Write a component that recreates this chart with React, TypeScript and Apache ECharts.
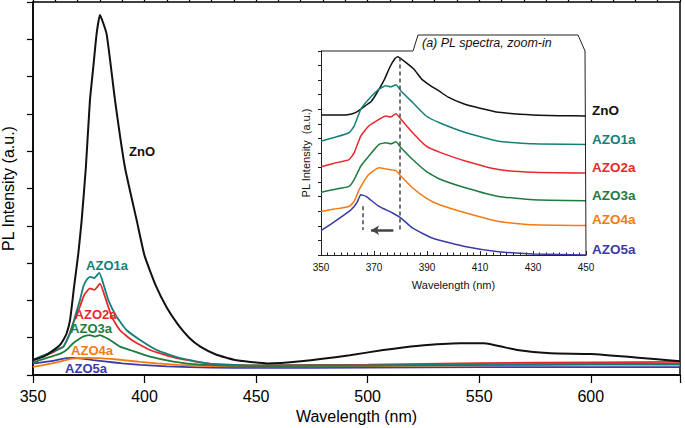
import React, { useEffect, useRef } from "react";
import * as echarts from "echarts";

// ---------- Main panel data (wavelength nm, PL intensity a.u.) ----------
const znoWl = [350, 355, 360, 362, 363.6, 365.1, 366.6, 368.4, 370.3, 371.8, 373.7, 375.5, 377, 378.5, 380, 383, 386.8, 391.2, 396.5, 400, 405, 410, 415, 420, 425, 432, 440, 455, 470, 492, 507, 522, 541.5, 552, 567, 582, 600, 620, 640];
const znoI = [0.4, 0.5, 0.7, 0.8, 0.94, 1.12, 1.47, 2.36, 3.25, 4.14, 5.57, 7.35, 8.24, 9.14, 9.65, 9.14, 7.35, 5.57, 4.14, 3.2, 2.4, 1.8, 1.35, 1.0, 0.76, 0.55, 0.41, 0.31, 0.37, 0.53, 0.67, 0.78, 0.85, 0.85, 0.67, 0.58, 0.56, 0.47, 0.37];

const azo1Wl = [350, 353, 357, 360, 363.6, 366.6, 368.8, 371, 372.5, 374, 375.5, 377.5, 379.7, 381.5, 383.8, 387.5, 392, 398, 405.5, 416, 430, 450, 500, 550, 600, 640];
const azo1I = [0.4, 0.49, 0.58, 0.66, 0.76, 1.11, 1.56, 2.0, 2.36, 2.55, 2.63, 2.6, 2.74, 2.45, 2.0, 1.56, 1.2, 0.94, 0.67, 0.45, 0.3, 0.26, 0.26, 0.28, 0.3, 0.3];

const azo2Wl = [350, 353, 357, 360, 363.6, 366, 368, 371, 373, 375.5, 377.5, 380, 382.3, 385.3, 389, 394.2, 402.5, 414.4, 430, 450, 500, 550, 600, 640];
const azo2I = [0.38, 0.47, 0.56, 0.64, 0.76, 1.05, 1.38, 1.83, 2.15, 2.32, 2.28, 2.45, 2.09, 1.56, 1.2, 0.94, 0.67, 0.45, 0.3, 0.26, 0.28, 0.32, 0.34, 0.35];

const azo3Wl = [350, 353, 357, 360, 362.5, 365, 368, 371, 373, 375.5, 377.8, 380, 382, 384.5, 389, 393.5, 402.5, 412.9, 425, 450, 500, 550, 600, 640];
const azo3I = [0.32, 0.4, 0.47, 0.53, 0.58, 0.67, 0.85, 0.98, 1.04, 1.07, 1.03, 1.07, 1.02, 0.94, 0.76, 0.67, 0.49, 0.36, 0.28, 0.24, 0.25, 0.27, 0.29, 0.29];

const azo4Wl = [350, 355, 362, 366, 371, 375, 380, 385, 390.5, 398, 405.5, 415, 430, 450, 500, 550, 600, 640];
const azo4I = [0.22, 0.27, 0.36, 0.42, 0.45, 0.46, 0.45, 0.43, 0.4, 0.35, 0.31, 0.27, 0.24, 0.23, 0.24, 0.26, 0.27, 0.27];

const azo5Wl = [350, 353, 358, 362, 365, 368, 372, 377, 383, 390, 398, 410, 430, 450, 500, 550, 600, 640];
const azo5I = [0.31, 0.33, 0.37, 0.42, 0.45, 0.46, 0.44, 0.4, 0.36, 0.31, 0.27, 0.23, 0.2, 0.19, 0.2, 0.21, 0.21, 0.21];

// ---------- Inset data (stacked, offset spectra) ----------
const inZnoWl = [350, 355, 360, 363, 366, 369, 371, 374, 376, 378, 379, 380, 382, 385, 388, 391, 394.5, 398, 404, 410, 417, 430, 440, 450];
const inZnoI = [9.6, 9.6, 9.62, 9.77, 10.14, 10.55, 11.1, 12.07, 12.9, 13.5, 13.61, 13.5, 13.22, 12.76, 12.07, 11.66, 11.26, 10.83, 10.36, 10.07, 9.79, 9.6, 9.56, 9.54];

const inAzoWl = [350, 355, 360.6, 362.5, 365, 368, 371.9, 374.4, 376.3, 378.3, 380.2, 384.6, 389.7, 394.7, 404.8, 417, 430, 450];
const inAzo1I = [7.81, 8.07, 8.39, 8.85, 10.0, 10.69, 11.38, 11.61, 11.54, 11.68, 11.26, 10.46, 9.54, 9.08, 8.39, 7.81, 7.63, 7.59];
const inAzo2I = [6.05, 6.3, 6.55, 7.01, 8.16, 8.85, 9.31, 9.54, 9.47, 9.7, 9.31, 8.39, 7.47, 7.06, 6.43, 5.86, 5.68, 5.63];
const inAzo3I = [4.3, 4.5, 4.71, 5.17, 6.09, 6.78, 7.59, 7.7, 7.63, 7.77, 7.36, 6.55, 5.74, 5.22, 4.6, 4.02, 3.79, 3.72];

const inAzo4Wl = [350, 355, 360.6, 362.5, 364.4, 368, 371.9, 374.4, 378.3, 380.2, 384.6, 389.7, 394.7, 404.8, 417, 430, 450];
const inAzo4I = [2.99, 3.15, 3.33, 3.68, 4.48, 5.52, 5.98, 5.91, 5.79, 5.4, 4.6, 3.91, 3.45, 2.88, 2.3, 2.07, 2.02];

const inAzo5Wl = [350, 354.3, 360.6, 362.5, 363.8, 365, 367, 371.9, 377, 380.2, 384.6, 392.2, 404.8, 417, 430, 450];
const inAzo5I = [1.68, 2.19, 2.99, 3.33, 3.68, 4.14, 4.02, 3.33, 2.88, 2.53, 1.84, 1.15, 0.57, 0.23, 0.07, 0];

const sampleNames = ["ZnO", "AZO1a", "AZO2a", "AZO3a", "AZO4a", "AZO5a"];
const sampleColors = ["#111111", "#14807a", "#e8282d", "#1d7c3d", "#f47a14", "#3b3ba8"];

const peakMarks = [379.7, 365.7]; // dashed guide lines (nm)
const arrowSpan = [368.9, 377.3];

const FONT = "Liberation Sans, Arial, Helvetica, sans-serif";

const zip = (a: number[], b: number[]) => a.map((x, i) => [x, b[i]]);

export default function App() {
  const ref = useRef<HTMLDivElement>(null);

  useEffect(() => {
    if (!ref.current) return;
    const chart = echarts.init(ref.current, undefined, { renderer: "svg" });

    const mainData = [
      zip(znoWl, znoI),
      zip(azo1Wl, azo1I),
      zip(azo2Wl, azo2I),
      zip(azo3Wl, azo3I),
      zip(azo4Wl, azo4I),
      zip(azo5Wl, azo5I),
    ];
    const insetData = [
      zip(inZnoWl, inZnoI),
      zip(inAzoWl, inAzo1I),
      zip(inAzoWl, inAzo2I),
      zip(inAzoWl, inAzo3I),
      zip(inAzo4Wl, inAzo4I),
      zip(inAzo5Wl, inAzo5I),
    ];

    const series: any[] = [];
    for (let i = sampleNames.length - 1; i >= 0; i--) {
      series.push({
        name: sampleNames[i] + " main",
        type: "line",
        xAxisIndex: 0,
        yAxisIndex: 0,
        data: mainData[i],
        showSymbol: false,
        smooth: 0.15,
        lineStyle: { color: sampleColors[i], width: i === 0 ? 2 : 1.8 },
        z: 3,
      });
    }
    for (let i = 0; i < sampleNames.length; i++) {
      const s: any = {
        name: sampleNames[i] + " inset",
        type: "line",
        xAxisIndex: 1,
        yAxisIndex: 1,
        data: insetData[i],
        showSymbol: false,
        smooth: 0.15,
        lineStyle: { color: sampleColors[i], width: 1.5 },
        z: 3,
      };
      if (i === 0) {
        s.markLine = {
          silent: true,
          symbol: ["none", "none"],
          label: { show: false },
          lineStyle: { color: "#444", width: 1.5, type: [4, 3] },
          data: [
            [{ coord: [peakMarks[0], 13.55] }, { coord: [peakMarks[0], 1.72] }],
            [{ coord: [peakMarks[1], 3.35] }, { coord: [peakMarks[1], 1.72] }],
          ],
        };
      }
      if (i === 5) {
        s.markLine = {
          silent: true,
          label: { show: false },
          symbol: ["arrow", "none"],
          symbolSize: [7, 8],
          lineStyle: { color: "#444", width: 2.5, type: "solid" },
          data: [[{ coord: [arrowSpan[0], 1.7] }, { coord: [arrowSpan[1], 1.7] }]],
        };
      }
      series.push(s);
    }

    const mainLabelPos = [
      [142, 151],
      [107, 265.5],
      [95.5, 314.5],
      [91, 328.5],
      [92, 350.5],
      [86, 368],
    ];
    const insetLabelY = [110, 139, 167, 195, 219, 249];

    const graphic: any[] = [
      {
        type: "polyline",
        shape: {
          points: [
            [321, 51],
            [413, 51],
            [418, 35],
            [578, 35],
            [585, 51],
            [586, 255],
          ],
        },
        style: { stroke: "#222", lineWidth: 1, fill: null },
        z: 10,
      },
      {
        type: "text",
        x: 422,
        y: 43,
        style: {
          text: "(a) PL spectra, zoom-in",
          fontFamily: FONT,
          fontSize: 12.5,
          fontStyle: "italic",
          fill: "#111",
          textAlign: "left",
          textVerticalAlign: "middle",
        },
        z: 10,
      },
    ];
    sampleNames.forEach((n, i) => {
      graphic.push({
        type: "text",
        x: mainLabelPos[i][0],
        y: mainLabelPos[i][1],
        style: {
          text: n,
          fontFamily: FONT,
          fontSize: 13,
          fontWeight: "bold",
          fill: sampleColors[i],
          textAlign: "center",
          textVerticalAlign: "middle",
        },
        z: 10,
      });
      graphic.push({
        type: "text",
        x: 592,
        y: insetLabelY[i],
        style: {
          text: n,
          fontFamily: FONT,
          fontSize: 13.5,
          fontWeight: "bold",
          fill: sampleColors[i],
          textAlign: "left",
          textVerticalAlign: "middle",
        },
        z: 10,
      });
    });

    const option: any = {
      animation: false,
      backgroundColor: "#fff",
      grid: [
        { left: 33, right: 5, top: 2, bottom: 53, show: true, borderColor: "#000", borderWidth: 1.5, backgroundColor: "transparent", outerBoundsMode: "none", containLabel: false },
        { left: 321, right: 99, top: 51, bottom: 173, show: false, outerBoundsMode: "none", containLabel: false },
      ],
      xAxis: [
        {
          type: "value",
          gridIndex: 0,
          min: 350,
          max: 640,
          interval: 50,
          axisLine: { show: true, lineStyle: { color: "#000", width: 1.5 } },
          axisTick: { show: true, length: 8, lineStyle: { color: "#000", width: 1.2 } },
          axisLabel: {
            fontSize: 16,
            color: "#000",
            fontFamily: FONT,
            margin: 13,
            formatter: (v: number) => (v % 50 === 0 ? String(v) : ""),
          },
          splitLine: { show: false },
          name: "Wavelength (nm)",
          nameLocation: "middle",
          nameGap: 30,
          nameTextStyle: { fontSize: 16, color: "#000", fontFamily: FONT },
        },
        {
          type: "value",
          gridIndex: 1,
          min: 350,
          max: 450,
          interval: 20,
          axisLine: { show: true, lineStyle: { color: "#222", width: 1 } },
          axisTick: { show: true, inside: true, length: 4, lineStyle: { color: "#222", width: 1 } },
          minorTick: { show: true, splitNumber: 8, length: 2.5, lineStyle: { color: "#222", width: 1 } },
          axisLabel: { fontSize: 10, color: "#111", fontFamily: FONT, margin: 7 },
          splitLine: { show: false },
          minorSplitLine: { show: false },
          name: "Wavelength (nm)",
          nameLocation: "middle",
          nameGap: 24,
          nameTextStyle: { fontSize: 11, color: "#111", fontFamily: FONT },
        },
        {
          type: "value",
          gridIndex: 0,
          min: 350,
          max: 640,
          interval: 10,
          axisLine: { show: false },
          axisTick: { show: true, length: 5, lineStyle: { color: "#000", width: 1.2 } },
          axisLabel: { show: false },
          splitLine: { show: false },
        },
      ],
      yAxis: [
        {
          type: "value",
          gridIndex: 0,
          min: 0,
          max: 10,
          interval: 1,
          axisLine: { show: true, lineStyle: { color: "#000", width: 1.5 } },
          axisTick: { show: true, length: 6, lineStyle: { color: "#000", width: 1.2 } },
          axisLabel: { show: false },
          splitLine: { show: false },
          name: "PL Intensity (a.u.)",
          nameLocation: "middle",
          nameGap: 17,
          nameTextStyle: { fontSize: 16, color: "#000", fontFamily: FONT },
        },
        {
          type: "value",
          gridIndex: 1,
          min: 0,
          max: 14,
          interval: 1,
          axisLine: { show: true, lineStyle: { color: "#222", width: 1 } },
          axisTick: { show: true, length: 3, lineStyle: { color: "#222", width: 1 } },
          axisLabel: { show: false },
          splitLine: { show: false },
          name: "PL Intensity  (a.u.)",
          nameLocation: "middle",
          nameGap: 10,
          nameTextStyle: { fontSize: 11, color: "#111", fontFamily: FONT },
        },
      ],
      series,
      graphic,
    };

    chart.setOption(option);
    return () => chart.dispose();
  }, []);

  return (
    <div
      ref={ref}
      style={{ position: "fixed", left: 0, top: 0, width: 685, height: 428, background: "#fff" }}
    />
  );
}
